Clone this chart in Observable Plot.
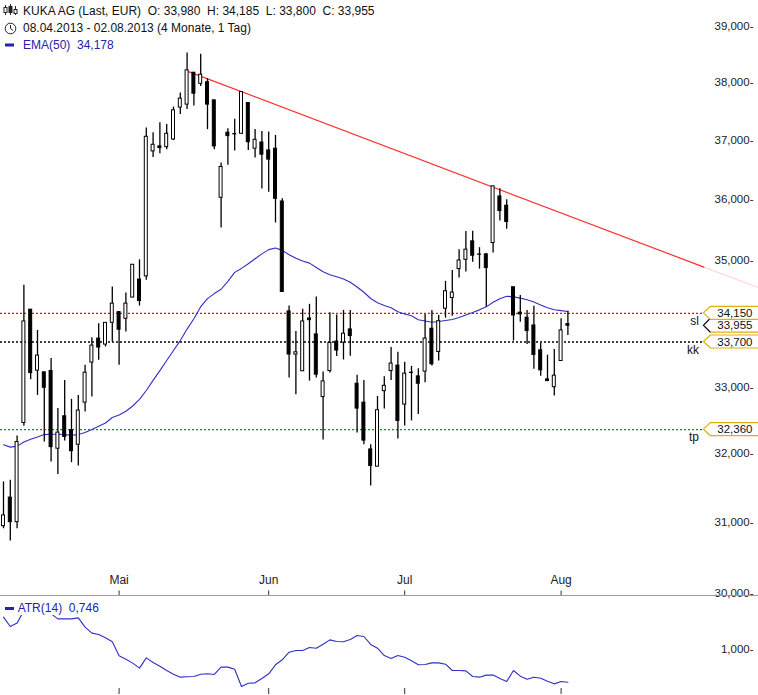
<!DOCTYPE html>
<html><head><meta charset="utf-8">
<script src="https://cdn.jsdelivr.net/npm/d3@7"></script>
<script src="https://cdn.jsdelivr.net/npm/@observablehq/plot@0.6"></script>
<style>
html,body{margin:0;padding:0;background:#fff;}
#wrap{position:relative;width:758px;height:695px;overflow:hidden;font-family:"Liberation Sans",Arial,sans-serif;}
.hdr{position:absolute;left:23px;font-size:12px;white-space:pre;color:#111;line-height:14px;}
.blue{color:#2424a8;}
#main,#atr{position:absolute;left:0;}
#main{top:0;} #atr{top:597px;}
#sep{position:absolute;left:0;top:595px;width:758px;height:1px;background:#9c9c9c;}
#atrlab{position:absolute;left:4px;top:601px;font-size:12px;white-space:pre;background:#fff;line-height:14px;padding-right:2px;}
</style></head><body>
<div id="wrap">
  <div id="main"></div>
  <div id="sep"></div>
  <div id="atr"></div>
  <svg style="position:absolute;left:0;top:0" width="22" height="60">
    <g stroke="#222" stroke-width="1" fill="none">
      <line x1="5.5" y1="5" x2="5.5" y2="15"/><rect x="4" y="7.5" width="3" height="5" fill="#fff"/>
      <line x1="10.5" y1="4" x2="10.5" y2="15"/><rect x="9" y="6.5" width="3" height="6" fill="#222"/>
      <line x1="15.5" y1="6" x2="15.5" y2="15"/><rect x="14" y="9.5" width="3" height="4" fill="#fff"/>
      <circle cx="10.5" cy="28.5" r="5.3"/>
      <polyline points="10.5,25 10.5,28.5 13,30.5"/>
    </g>
    <rect x="5" y="43.5" width="9" height="3" fill="#2424a8"/>
  </svg>
  <div class="hdr" id="h1" style="top:4px"></div>
  <div class="hdr" id="h2" style="top:21px"></div>
  <div class="hdr blue" id="h3" style="top:38px"></div>
  <div id="atrlab" class="blue"></div>
</div>
<script>
// ---------- data ----------
const titleName = "KUKA AG (Last, EUR)";
const periodText = "08.04.2013 - 02.08.2013 (4 Monate, 1 Tag)";
// daily OHLC, 84 trading days 08.04.2013 .. 02.08.2013
const openP  = [30.946,31.358,31.003,32.460,34.208,33.256,33.230,33.250,32.075,32.561,
                32.351,32.135,32.767,33.381,33.753,33.660,34.001,34.170,34.065,34.400,
                34.688,34.740,36.809,36.894,36.882,37.012,37.563,37.615,38.175,37.979,
                38.007,37.689,36.027,37.129,37.111,37.111,37.643,36.855,36.961,36.826,
                36.855,35.965,34.181,33.505,33.246,34.069,33.819,32.852,33.250,33.706,
                33.691,33.897,33.055,32.767,32.065,31.810,32.942,33.250,33.334,32.737,
                33.230,33.168,33.241,33.908,33.545,34.224,34.394,34.857,35.007,35.308,
                35.099,35.095,35.280,36.049,35.895,34.565,34.161,34.081,33.959,33.571,
                33.122,33.002,33.405,33.980];
const highP  = [31.586,31.611,32.265,34.597,34.208,33.881,33.230,33.443,32.677,33.106,
                32.817,32.877,33.339,33.768,33.985,34.000,34.569,34.170,34.474,34.927,
                35.007,37.209,37.129,37.302,37.268,37.573,37.816,38.524,38.175,38.501,
                38.068,37.689,36.612,37.198,37.360,37.834,37.643,37.186,37.151,37.139,
                37.082,36.010,34.266,33.866,34.213,34.293,34.410,33.235,34.161,34.122,
                34.197,34.197,33.184,33.106,32.135,32.862,33.163,33.613,33.540,33.385,
                33.323,33.287,34.133,34.197,34.117,34.660,34.836,35.172,35.467,35.472,
                35.204,35.111,36.218,36.179,35.993,34.565,34.432,34.197,34.261,33.675,
                33.494,33.582,34.065,34.185];
const lowP   = [30.909,30.734,30.909,32.411,33.117,32.877,32.175,31.878,31.694,32.190,
                31.869,31.819,32.626,32.852,33.416,33.622,33.700,33.339,33.855,34.400,
                34.266,34.676,36.703,36.770,36.838,36.995,37.441,37.528,37.590,37.932,
                37.181,36.838,35.527,36.573,36.814,37.099,36.826,36.696,36.172,36.121,
                35.609,34.490,33.142,32.888,33.246,33.095,33.142,32.205,33.219,33.474,
                33.421,33.478,32.310,32.135,31.528,31.810,32.671,33.106,32.220,32.415,
                32.491,32.587,33.070,33.328,33.405,34.074,34.106,34.713,34.809,34.969,
                34.857,34.250,35.116,35.642,35.505,33.715,34.010,33.660,33.277,33.168,
                33.095,32.867,33.405,33.800];
const closeP = [31.100,31.003,32.175,34.022,33.219,33.489,32.993,32.099,32.316,32.250,
                32.039,32.647,33.225,33.644,33.613,34.000,34.304,33.892,34.304,34.927,
                34.346,37.059,36.922,36.865,37.111,37.516,37.719,38.216,37.806,38.139,
                37.615,36.894,36.544,37.070,37.111,37.834,36.966,37.007,36.753,36.669,
                36.010,34.490,33.505,33.540,34.022,34.042,33.194,33.091,33.684,33.567,
                33.830,33.793,32.677,32.196,31.819,32.652,33.024,33.365,32.491,33.210,
                33.230,33.055,33.753,33.354,34.026,34.501,34.480,34.996,35.172,35.073,
                35.099,34.873,36.218,35.806,35.625,34.117,34.133,33.871,33.498,33.261,
                33.095,33.179,33.881,33.955];
const ema50  = [32.135,32.099,32.114,32.175,32.215,32.250,32.286,32.291,32.291,32.286,
                32.275,32.286,32.316,32.361,32.411,32.460,32.542,32.581,32.636,32.716,
                32.817,32.952,33.106,33.256,33.412,33.567,33.722,33.902,34.065,34.256,
                34.384,34.464,34.533,34.660,34.804,34.868,34.943,35.024,35.103,35.172,
                35.198,35.160,35.089,35.034,34.988,34.953,34.884,34.815,34.767,34.732,
                34.697,34.644,34.569,34.485,34.386,34.317,34.274,34.237,34.176,34.140,
                34.113,34.050,34.030,34.010,34.022,34.038,34.054,34.085,34.125,34.165,
                34.205,34.253,34.325,34.381,34.421,34.411,34.392,34.365,34.330,34.283,
                34.239,34.207,34.193,34.178];
const atr14  = [1.251,1.179,1.205,1.303,1.329,1.329,1.303,1.277,1.238,1.238,
                1.238,1.246,1.174,1.127,1.117,1.091,1.060,0.951,0.925,0.894,
                0.855,0.935,0.899,0.870,0.837,0.808,0.785,0.788,0.790,0.808,
                0.811,0.806,0.863,0.863,0.847,0.713,0.738,0.741,0.775,0.811,
                0.881,0.920,0.979,0.992,0.992,1.016,1.010,1.041,1.075,1.062,
                1.060,1.078,1.109,1.101,1.039,1.010,0.953,0.930,0.953,0.940,
                0.912,0.881,0.883,0.896,0.896,0.886,0.837,0.837,0.834,0.790,
                0.785,0.801,0.801,0.775,0.751,0.837,0.793,0.769,0.785,0.777,
                0.754,0.733,0.751,0.746];
const monthLabels = ["Mai","Jun","Jul","Aug"];
const monthStart  = [17,39,59,82];          // trading-day index of first day of month
const priceTicks  = [30,31,32,33,35,36,37,38,39];
const atrTicks    = [1.0];
const trendIdx    = [27,103];
const trendVal    = [38.203,34.889];
const trendFadeIdx = [103,111];
const trendFadeVal = [34.889,34.560];
const levelNames  = ["sl","kk","tp"];
const levelValues = [34.150,33.700,32.360];
const levelColors = ["#ff0000","#000000","#009a00"];
const lastClose   = 33.955;
const labelIdx    = 103;   // where level lines end / price markers start
const emaLast = ema50[ema50.length-1], atrLast = atr14[atr14.length-1];

// ---------- helpers ----------
const fmt = v => v.toFixed(3).replace(".", ",");
const FONT = '"Liberation Sans", Arial, sans-serif';
const GOLD = "#e3ad0c";
const BLUE = "#3030c4";

document.getElementById("h1").textContent =
  `${titleName}  O: ${fmt(openP[83])}  H: ${fmt(highP[83])}  L: ${fmt(lowP[83])}  C: ${fmt(closeP[83])}`;
document.getElementById("h2").textContent = periodText;
document.getElementById("h3").textContent = `EMA(50)  ${fmt(emaLast)}`;
document.getElementById("atrlab").innerHTML =
  `<svg width="11" height="10" style="vertical-align:-1px"><rect x="1" y="4" width="9" height="3" fill="#2424a8"/></svg> ATR(14)  ${fmt(atrLast)}`;

const candles = openP.map((o,i) => ({i, open:o, high:highP[i], low:lowP[i], close:closeP[i]}));
const up = candles.filter(c => c.close > c.open + 0.01);
const down = candles.filter(c => c.close < c.open - 0.01);
const doji = candles.filter(c => Math.abs(c.close - c.open) <= 0.01);
const ema = ema50.map((v,i) => ({i, v}));
const atr = atr14.map((v,i) => ({i, v}));
const months = monthLabels.map((m,k) => ({m, i: monthStart[k]}));
const trend = trendIdx.map((i,k) => ({i, v: trendVal[k]}));
const trendFade = trendFadeIdx.map((i,k) => ({i, v: trendFadeVal[k]}));
const levels = levelNames.map((n,k) => ({name:n, value:levelValues[k], color:levelColors[k]}));
const markers = [
  {value: levelValues[0], cur:false},
  {value: lastClose, cur:true},
  {value: levelValues[1], cur:false},
  {value: levelValues[2], cur:false}
];

const xScale = {type:"linear", domain:[-0.44, 111.03], range:[0, 758]};
const halfW = 0.22;

function markerShapes(index, scales, values, dims) {
  const g = d3.create("svg:g");
  const xr = scales.x(labelIdx), xe = dims.width;
  const order = [markers[1], markers[0], markers[2], markers[3]];
  for (const b of order) {
    const y = scales.y(b.value), h = b.cur ? 7 : 6.5;
    g.append("path")
      .attr("d", `M${xe},${y-h}H${xr+7}L${xr},${y}L${xr+7},${y+h}H${xe}Z`)
      .attr("fill", "#fff").attr("stroke", "none");
    if (b.cur) {
      g.append("path").attr("d", `M${xe},${y-h}H${xr+7}M${xr+7},${y+h}H${xe}`)
        .attr("fill","none").attr("stroke", GOLD).attr("stroke-width",1.2);
      g.append("path").attr("d", `M${xr+7},${y-h}L${xr},${y}L${xr+7},${y+h}`)
        .attr("fill","none").attr("stroke", "#111").attr("stroke-width",1.2);
    } else {
      g.append("path").attr("d", `M${xe},${y-h}H${xr+7}L${xr},${y}L${xr+7},${y+h}H${xe}`)
        .attr("fill","none").attr("stroke", GOLD).attr("stroke-width",1.2);
    }
  }
  return g.node();
}

const main = Plot.plot({
  width: 758, height: 597,
  marginTop: 0, marginBottom: 0, marginLeft: 0, marginRight: 0,
  style: {fontFamily: FONT, background: "transparent", overflow: "visible"},
  x: {...xScale, axis: null},
  y: {type:"log", domain:[30,39], range:[592.71, 26], axis: null},
  marks: [
    ...levels.map(l => Plot.ruleY([l], {y:"value", x1: () => -0.44, x2: () => labelIdx,
        stroke: l.color, strokeWidth: 1.4, strokeDasharray: "2,2"})),
    Plot.line(trendFade, {x:"i", y:"v", stroke:"#ffd9d9", strokeWidth:1.2}),
    Plot.line(trend, {x:"i", y:"v", stroke:"#ff2d2d", strokeWidth:1.2}),
    Plot.line(ema, {x:"i", y:"v", stroke:BLUE, strokeWidth:1.1}),
    Plot.ruleX(candles, {x:"i", y1:"low", y2:"high", stroke:"#000", strokeWidth:1.3}),
    Plot.rect(up, {x1: d => d.i - halfW, x2: d => d.i + halfW, y1:"open", y2:"close",
        fill:"#fff", stroke:"#000", strokeWidth:1}),
    Plot.rect(down, {x1: d => d.i - halfW, x2: d => d.i + halfW, y1:"open", y2:"close",
        fill:"#000", stroke:"#000", strokeWidth:1}),
    Plot.ruleY(doji, {y:"open", x1: d => d.i - halfW - 0.07, x2: d => d.i + halfW + 0.07,
        stroke:"#000", strokeWidth:1.3}),
    Plot.text(levels, {x: () => labelIdx, y:"value", text:"name", textAnchor:"end",
        dx:-5, dy:8, fontSize:12, fill:"#111"}),
    markerShapes,
    Plot.text(markers, {y:"value", text: d => fmt(d.value), frameAnchor:"right",
        textAnchor:"end", dx:-6, fontSize:11.5, fill:"#111"}),
    Plot.text(priceTicks, {y: d => d, text: d => fmt(d) + "-", frameAnchor:"right",
        textAnchor:"end", dx:-5, fontSize:11.5, fill:"#222"}),
    Plot.text(months, {x:"i", text:"m", frameAnchor:"bottom", dy:-14, fontSize:12, fill:"#222"}),
    Plot.ruleX(months, {x:"i", insetTop:590.5, insetBottom:2, stroke:"#333", strokeWidth:1})
  ]
});
document.getElementById("main").appendChild(main);

const atrPlot = Plot.plot({
  width: 758, height: 98,
  marginTop: 0, marginBottom: 0, marginLeft: 0, marginRight: 0,
  style: {fontFamily: FONT, background: "transparent"},
  x: {...xScale, axis: null},
  y: {type:"linear", domain:[0.6, 1.4], range:[103.48, 0.52], axis: null},
  marks: [
    Plot.line(atr, {x:"i", y:"v", stroke:BLUE, strokeWidth:1.1}),
    Plot.text(atrTicks, {y: d => d, text: d => fmt(d) + "-", frameAnchor:"right",
        textAnchor:"end", dx:-5, fontSize:11.5, fill:"#222"}),
    Plot.ruleX(months, {x:"i", insetTop:91, insetBottom:1, stroke:"#333", strokeWidth:1})
  ]
});
document.getElementById("atr").appendChild(atrPlot);
</script>
</body></html>
